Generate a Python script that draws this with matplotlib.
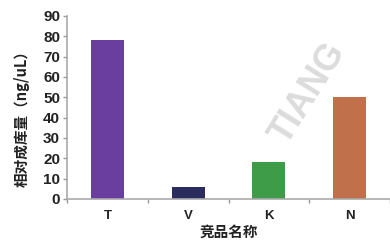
import matplotlib
matplotlib.use("Agg")
import matplotlib.pyplot as plt
import numpy as np

categories = ["T", "V", "K", "N"]
values = [78, 6, 18, 50]
colors = ["#6A3E9E", "#2B2C5E", "#3E9B48", "#C0704A"]
yticks = [0, 10, 20, 30, 40, 50, 60, 70, 80, 90]

plt.rcParams['font.family'] = ['Liberation Sans', 'Noto Sans CJK SC', 'DejaVu Sans']

fig = plt.figure(figsize=(3.9, 2.45), dpi=100)
ax = fig.add_axes([0.172, 0.188, 0.828, 0.747])
x = np.arange(len(categories))
ax.bar(x, values, width=0.41, color=colors, zorder=2)
ax.set_xlim(-0.5, len(categories) - 0.5)
ax.set_ylim(0, 90)
ax.set_yticks(yticks)
ax.set_yticklabels([str(v) for v in yticks], fontsize=11, fontweight='bold', color='#222222')
ax.set_xticks(x)
ax.set_xticklabels(categories, fontsize=9.5, fontweight='bold', color='#222222')
ax.tick_params(axis='x', length=0, pad=8)
ax.set_xticks(np.arange(-0.5, len(categories) + 0.5, 1), minor=True)
ax.tick_params(axis='x', which='minor', length=3, color='#999999', width=1)
ax.tick_params(axis='y', length=3, color='#999999', width=1, pad=2)
for s in ['top', 'right']:
    ax.spines[s].set_visible(False)
for s in ['left', 'bottom']:
    ax.spines[s].set_color('#aaaaaa')
    ax.spines[s].set_linewidth(1.2)
ax.set_ylabel("相对成库量（ng/uL）", fontsize=10.5, fontweight='bold', color='#222222',
              family=['Noto Sans CJK SC', 'DejaVu Sans'])
ax.yaxis.set_label_coords(-0.115, 0.46)
ax.set_xlabel("竞品名称", fontsize=10.5, fontweight='bold', color='#222222',
              labelpad=1, family=['Noto Sans CJK SC', 'DejaVu Sans'])

# watermark
fig.text(0.79, 0.62, "TIANG", fontsize=26, fontweight='bold', color='#dcdcdc',
         rotation=58, ha='center', va='center', zorder=0)

fig.savefig("out.png", dpi=100)
